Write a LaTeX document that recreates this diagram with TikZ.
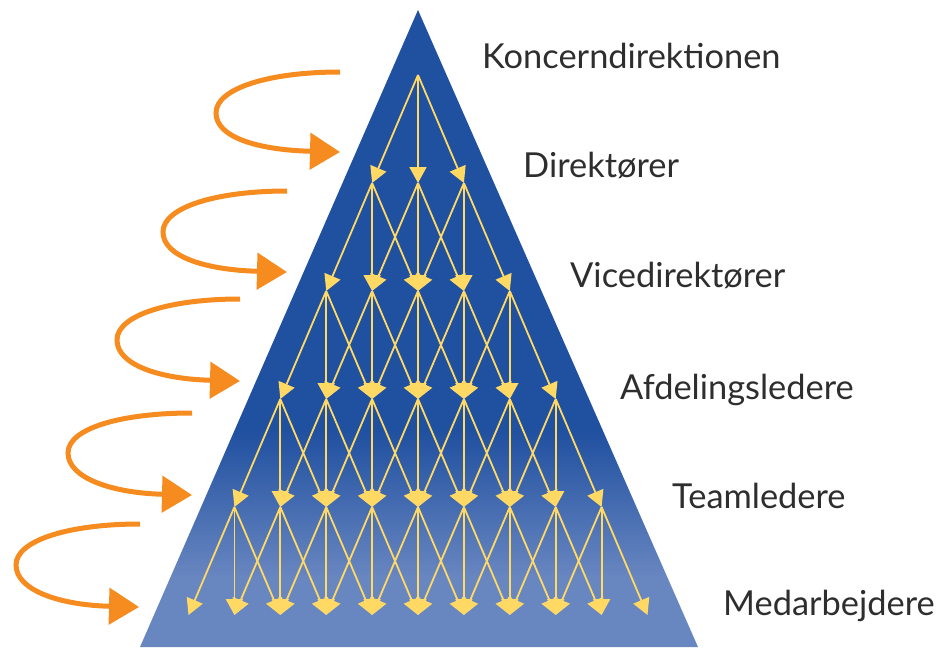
\documentclass[tikz,border=0pt]{standalone}
\usepackage{fontspec}
\setmainfont{Lato}
\usetikzlibrary{arrows.meta}
\definecolor{pyrdark}{HTML}{2050A0}
\definecolor{pyrlight}{HTML}{6886C0}
\definecolor{ylw}{HTML}{FFD964}
\definecolor{orng}{HTML}{F68B1F}
\definecolor{txt}{HTML}{2E2E2E}
\pgfdeclareverticalshading{pyrshade}{100bp}{color(0bp)=(pyrlight); color(30.5bp)=(pyrlight); color(42bp)=(pyrdark); color(100bp)=(pyrdark)}
\tikzset{
  yarrow/.style={draw=ylw, line width=1.8pt, -{Triangle[length=16pt,width=17pt]}},
  loopar/.style={draw=orng, line width=5pt, -{Triangle[length=30pt,width=36pt]}},
  lvl/.style={anchor=base west, text=txt, font=\fontsize{34.4}{40}\selectfont, inner sep=0pt}
}
\begin{document}
\begin{tikzpicture}[x=1pt,y=-1pt]
\useasboundingbox (0,0) rectangle (940,649);
% pyramid
\shade[shading=pyrshade] (418,10) -- (140,647) -- (698,647) -- cycle;
% level points
\foreach \k in {0,...,5} {
  \pgfmathtruncatemacro\m{2*\k}
  \foreach \i in {0,...,\m} {
    \coordinate (n-\k-\i) at ({418+(\i-\k)*45.9}, {75+108*\k});
  }
}
% connectors
\foreach \k in {0,...,4} {
  \pgfmathtruncatemacro\kk{\k+1}
  \pgfmathtruncatemacro\m{2*\k}
  \foreach \i in {0,...,\m} {
    \foreach \d in {0,1,2} {
      \pgfmathtruncatemacro\j{\i+\d}
      \draw[yarrow] (n-\k-\i) -- (n-\kk-\j);
    }
  }
}
% orange loop arrows
\foreach \sx/\sy/\lx/\ly/\tx/\ty [count=\c] in {340/72/216/113/340/152, 287/191/163/232/287/272, 240/299/117/340/240/381, 192/413/68/453/192/495, 140/524/16/565/139/607} {
  \coordinate (os-\c) at (\sx,\sy);
  \coordinate (ol-\c) at (\lx,\ly);
  \coordinate (ot-\c) at (\tx,\ty);
  \draw[loopar] (os-\c) .. controls ([xshift=-70pt]os-\c) and ([yshift=25pt]ol-\c) .. (ol-\c)
     .. controls ([yshift=-25pt]ol-\c) and ([xshift=-80pt,yshift=2pt]ot-\c) .. (ot-\c);
}
% labels
\node[lvl] (t0) at (482,68) {Koncerndirektionen};
\node[lvl] (t1) at (523,177) {Direktører};
\node[lvl] (t2) at (570,287) {Vicedirektører};
\node[lvl] (t3) at (620,399) {Afdelingsledere};
\node[lvl] (t4) at (672,508) {Teamledere};
\node[lvl] (t5) at (723,615) {Medarbejdere};
\end{tikzpicture}
\end{document}
